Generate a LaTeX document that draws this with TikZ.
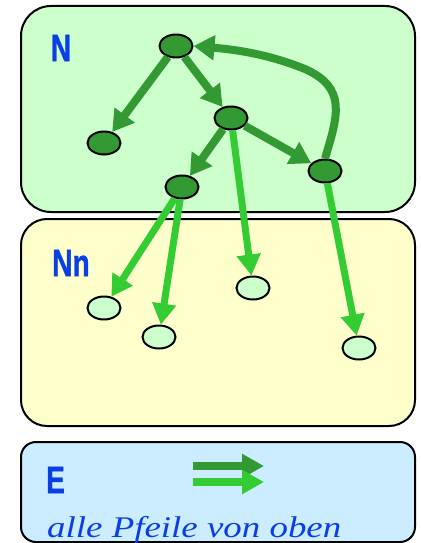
\documentclass[tikz,border=0pt]{standalone}
\usepackage{fontspec}
\usepackage{graphicx}
\setmainfont{Liberation Serif}
\newfontfamily\labfont[FakeBold=1.2]{Liberation Sans}
\usetikzlibrary{shapes.geometric,arrows.meta}
\definecolor{dkgreen}{HTML}{339933}
\definecolor{ltgreen}{HTML}{33CC33}
\definecolor{paleg}{HTML}{CCFFCC}
\definecolor{paley}{HTML}{FFFFCC}
\definecolor{paleb}{HTML}{CCECFF}
\definecolor{labblue}{HTML}{0A3FE6}
\tikzset{
  panel/.style={draw=black, line width=2pt},
  dknode/.style={ellipse, draw=black, line width=2pt, fill=dkgreen, minimum width=33pt, minimum height=23pt, inner sep=0pt},
  ltnode/.style={ellipse, draw=black, line width=2pt, fill=paleg, minimum width=33pt, minimum height=23pt, inner sep=0pt},
  dkarrow/.style={draw=dkgreen, line width=8pt, -{Triangle[length=21pt,width=24pt]}},
  ltarrow/.style={draw=ltgreen, line width=7pt, -{Triangle[length=21pt,width=23pt]}},
  lgarrow/.style={line width=8pt, -{Triangle[length=22pt,width=23pt]}},
  lab/.style={text=labblue, inner sep=0pt, font=\labfont\bfseries\fontsize{38}{38}\selectfont}
}
\begin{document}
\begin{tikzpicture}[x=1pt,y=-1pt]
\useasboundingbox (0,0) rectangle (420,543);
% panels
\draw[panel, fill=paleg, rounded corners=30pt] (21,6) rectangle (415,212);
\draw[panel, fill=paley, rounded corners=26pt] (21,219) rectangle (415,426);
\draw[panel, fill=paleb, rounded corners=15pt] (21,442) rectangle (415,542);
% labels
\node[lab] (labN) at (61,48) {\scalebox{0.74}[1]{N}};
\node[lab] (labNn) at (71,263) {\scalebox{0.74}[1]{Nn}};
\node[lab] (labE) at (55.5,480) {\scalebox{0.74}[1]{E}};
\node[text=labblue, inner sep=0pt, anchor=base west, font=\itshape\fontsize{30}{30}\selectfont] (legtext) at (47,537) {\scalebox{1.23}[1]{alle Pfeile von oben}};
% nodes
\node[dknode] (A) at (176,46) {};
\node[dknode] (B) at (104,143) {};
\node[dknode] (C) at (231,118) {};
\node[dknode] (D) at (182,187) {};
\node[dknode] (F) at (325,171) {};
\node[ltnode] (L1) at (104,308) {};
\node[ltnode] (L2) at (159,337) {};
\node[ltnode] (L3) at (253,288) {};
\node[ltnode] (L4) at (359,348) {};
% dark arrows
\draw[dkarrow] (A) -- (B);
\draw[dkarrow] (A) -- (C);
\draw[dkarrow] (C) -- (D);
\draw[dkarrow] (C) -- (F);
\draw[dkarrow] (F.north) .. controls (338,115) and (347,88) .. (305,69) .. controls (270,55) and (240,50) .. (A.east);
% light arrows
\draw[ltarrow] (D) -- (L1);
\draw[ltarrow] (D) -- (L2);
\draw[ltarrow] (C) -- (L3);
\draw[ltarrow] (F) -- (L4);
% legend arrows
\coordinate (d1) at (193,466);
\coordinate (d2) at (264,466);
\coordinate (l1) at (193,482);
\coordinate (l2) at (264,482);
\draw[lgarrow, draw=dkgreen] (d1) -- (d2);
\draw[lgarrow, draw=ltgreen] (l1) -- (l2);
\end{tikzpicture}
\end{document}
